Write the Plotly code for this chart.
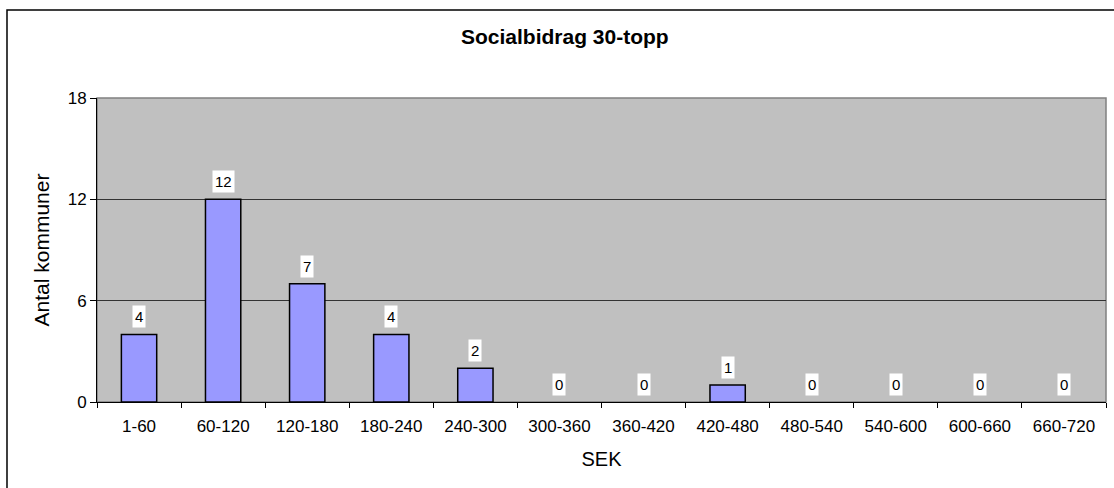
import plotly.graph_objects as go

# data
kategorier = ["1-60", "60-120", "120-180", "180-240", "240-300", "300-360",
              "360-420", "420-480", "480-540", "540-600", "600-660", "660-720"]
antal = [4, 12, 7, 4, 2, 0, 0, 1, 0, 0, 0, 0]
y_ticks = [0, 6, 12, 18]

FONT = "Liberation Sans, Arial, sans-serif"

fig = go.Figure(go.Bar(
    x=kategorier, y=antal,
    marker=dict(color="#9999FF",
                line=dict(color="black", width=[1.5 if v else 0 for v in antal])),
    width=0.42,
    hoverinfo="x+y",
))

# dataetiketter med vit bakgrund
for k, v in zip(kategorier, antal):
    fig.add_annotation(
        x=k, y=v, text=str(v), showarrow=False,
        yanchor="bottom", yshift=6,
        bgcolor="white", borderpad=2,
        font=dict(family=FONT, size=15, color="black"),
    )

# plotytans ram och diagrammets yttre ram
fig.add_shape(type="rect", xref="paper", yref="paper", x0=0, x1=1, y0=0, y1=1,
              line=dict(color="#808080", width=1.5), layer="below")
fig.add_shape(type="rect", xref="paper", yref="paper",
              x0=-0.0892, x1=1.2, y0=-0.5, y1=1.2895,
              line=dict(color="black", width=1.5))

fig.update_layout(
    width=1114, height=488,
    margin=dict(l=97, r=8, t=98, b=86),
    paper_bgcolor="white", plot_bgcolor="#C0C0C0",
    font=dict(family=FONT, color="black"),
    title=dict(text="<b>Socialbidrag 30-topp</b>", x=0.507, xanchor="center",
               y=1 - 37 / 488, yanchor="middle", font=dict(size=21)),
    showlegend=False,
    bargap=0.58,
)
fig.update_xaxes(
    title=dict(text="SEK", font=dict(size=20), standoff=16),
    tickfont=dict(size=17), ticklabelstandoff=9,
    showline=True, linecolor="black", linewidth=1,
    ticks="outside", tickson="boundaries", ticklen=5, tickcolor="black",
    showgrid=False,
)
fig.update_yaxes(
    title=dict(text="Antal kommuner", font=dict(size=21), standoff=12),
    range=[0, 18], tickvals=y_ticks, tickfont=dict(size=17),
    showline=True, linecolor="black", linewidth=1,
    ticks="outside", ticklen=6, tickcolor="black",
    showgrid=True, gridcolor="#333333", gridwidth=1, zeroline=False,
)

fig.write_html("out.html", config={"displayModeBar": False},
               post_script="document.body.style.margin='0px';")
